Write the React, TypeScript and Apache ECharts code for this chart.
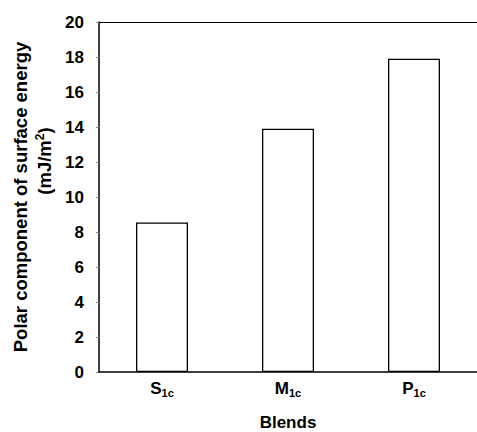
import React, { useEffect, useRef } from "react";
import * as echarts from "echarts";

const categories = ["S", "M", "P"];
const subscripts = ["1c", "1c", "1c"];
const values = [8.55, 13.9, 17.9];
const yTicks = { min: 0, max: 20, interval: 2 };

export default function App() {
  const ref = useRef<HTMLDivElement>(null);
  useEffect(() => {
    const chart = echarts.init(ref.current!, null, { renderer: "svg" });
    const font = "'Liberation Sans', Arial, sans-serif";
    chart.setOption({
      animation: false,
      textStyle: { fontFamily: font },
      grid: { left: 99, right: 0, top: 22, bottom: 60, containLabel: false, outerBoundsMode: "none" },
      xAxis: [
        {
          type: "category",
          data: categories,
          axisLine: { lineStyle: { color: "#000", width: 1.5 } },
          axisTick: { show: false },
          axisLabel: {
            margin: 6,
            formatter: (v: string, i: number) => `{b|${v}}{s|${subscripts[i]}}`,
            rich: {
              b: { fontSize: 17, fontWeight: "bold", color: "#000", fontFamily: font },
              s: { fontSize: 11, fontWeight: "bold", color: "#000", fontFamily: font, padding: [9, 0, 0, 0] },
            },
          },
          name: "Blends",
          nameLocation: "middle",
          nameGap: 42,
          nameTextStyle: { fontSize: 17, fontWeight: "bold", color: "#000", fontFamily: font },
        },
        {
          type: "category",
          position: "top",
          data: categories,
          axisLine: { show: true, lineStyle: { color: "#000", width: 1.2 } },
          axisTick: { show: false },
          axisLabel: { show: false },
        },
      ],
      yAxis: {
        type: "value",
        min: yTicks.min,
        max: yTicks.max,
        interval: yTicks.interval,
        splitLine: { show: false },
        axisLine: { show: true, lineStyle: { color: "#000", width: 1.5 } },
        axisTick: { show: true, length: 3, lineStyle: { color: "#888" } },
        axisLabel: { fontSize: 17, fontWeight: "bold", color: "#000", margin: 15, fontFamily: font },
        name: "{a|Polar component of surface energy}\n{q|(mJ/m}{p|2}{a|)}",
        nameLocation: "middle",
        nameRotate: 90,
        nameGap: 41,
        nameTextStyle: {
          rich: {
            a: { fontSize: 18.5, fontWeight: "bold", color: "#000", fontFamily: font, lineHeight: 24 },
            q: { fontSize: 18.5, fontWeight: "bold", color: "#000", fontFamily: font, lineHeight: 24, padding: [0, 0, 0, 72] },
            p: { fontSize: 12, fontWeight: "bold", color: "#000", fontFamily: font, padding: [0, 0, 9, 0] },
          },
        },
      },
      series: [
        {
          type: "bar",
          data: values,
          barWidth: 52,
          itemStyle: { color: "#fff", borderColor: "#000", borderWidth: 1.3 },
        },
      ],
    });
    return () => chart.dispose();
  }, []);
  return <div ref={ref} style={{ width: 477, height: 432, position: "absolute", left: 0, top: 0 }} />;
}
